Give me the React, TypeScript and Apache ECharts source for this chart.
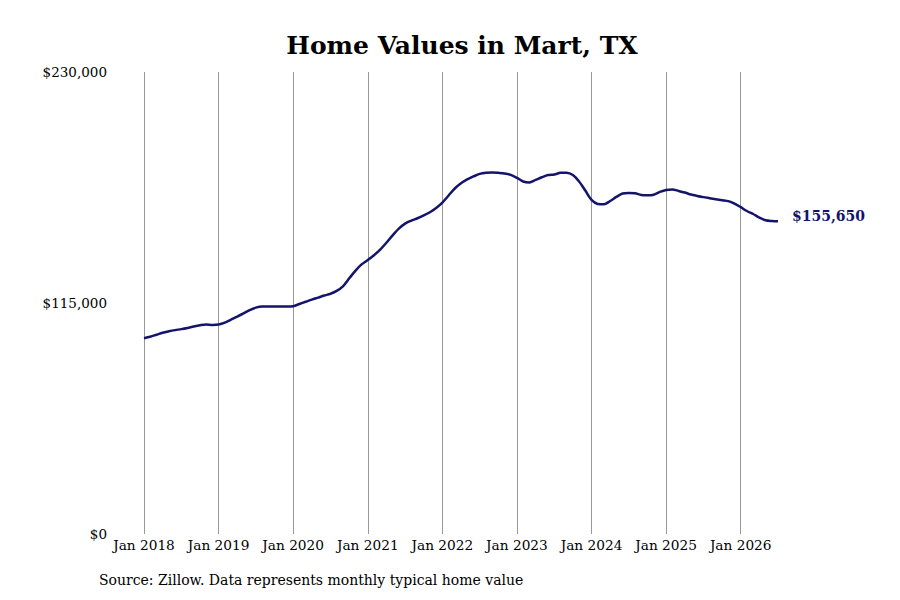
import React, { useEffect, useRef } from 'react';
import * as echarts from 'echarts';

// Monthly typical home values, Jan 2018 .. Jul 2026
const values2018 = [97500, 98200, 99200, 100200, 100900, 101500, 102000, 102600, 103300, 103900, 104300, 104100];
const values2019 = [104300, 105200, 106700, 108200, 109800, 111500, 112700, 113200, 113200, 113200, 113200, 113200];
const values2020 = [113400, 114500, 115600, 116700, 117700, 118700, 119600, 121000, 123300, 127200, 131000, 134200];
const values2021 = [136400, 138800, 141600, 145000, 148700, 152000, 154500, 156000, 157200, 158600, 160200, 162300];
const values2022 = [165000, 168500, 172000, 174600, 176500, 178000, 179300, 179900, 180000, 179800, 179500, 178800];
const values2023 = [177300, 175500, 175000, 176300, 177600, 178700, 179000, 179800, 179900, 178700, 175500, 171000];
const values2024 = [166300, 164300, 164100, 165800, 167800, 169500, 169800, 169600, 168800, 168600, 168900, 170300];
const values2025 = [171300, 171500, 170800, 170000, 169000, 168300, 167700, 167200, 166700, 166200, 165700, 164500];
const values2026 = [162700, 160800, 159300, 157500, 156200, 155800, 155650];

const values = [
  ...values2018, ...values2019, ...values2020, ...values2021, ...values2022,
  ...values2023, ...values2024, ...values2025, ...values2026,
];

const monthNames = ['Jan', 'Feb', 'Mar', 'Apr', 'May', 'Jun', 'Jul', 'Aug', 'Sep', 'Oct', 'Nov', 'Dec'];
const firstYear = 2018;
const categories = values.map((_, i) => `${monthNames[i % 12]} ${firstYear + Math.floor(i / 12)}`);

const yTicks = [0, 115000, 230000];

const FONT = '"DejaVu Serif", serif';
const NAVY = '#14146b';

const fmtMoney = (v: number) => '$' + v.toLocaleString('en-US');

const App: React.FC = () => {
  const chartRef = useRef<HTMLDivElement | null>(null);

  useEffect(() => {
    if (!chartRef.current) return;
    document.body.style.margin = '0';
    const chart = echarts.init(chartRef.current, undefined, { renderer: 'svg' });

    chart.setOption({
      animation: false,
      backgroundColor: '#fff',
      title: {
        text: 'Home Values in Mart, TX',
        left: 457,
        top: 28,
        textAlign: 'center',
        textStyle: { fontFamily: FONT, fontSize: 25, fontWeight: 'bold', color: '#000' },
      },
      grid: { left: 144, right: 122, top: 72, bottom: 66 },
      xAxis: {
        type: 'category',
        data: categories,
        boundaryGap: false,
        axisLine: { show: false },
        axisTick: { show: false },
        axisLabel: {
          interval: (idx: number) => idx % 12 === 0,
          fontFamily: FONT,
          fontSize: 13.7,
          color: '#000',
          margin: 4,
        },
        splitLine: {
          show: true,
          interval: (idx: number) => idx % 12 === 0,
          lineStyle: { color: '#999', width: 1 },
        },
      },
      yAxis: {
        type: 'value',
        min: yTicks[0],
        max: yTicks[yTicks.length - 1],
        interval: yTicks[1] - yTicks[0],
        axisLine: { show: false },
        axisTick: { show: false },
        splitLine: { show: false },
        axisLabel: {
          formatter: (v: number) => fmtMoney(v),
          fontFamily: FONT,
          fontSize: 13.5,
          color: '#000',
          margin: 37,
        },
      },
      series: [
        {
          type: 'line',
          data: values,
          smooth: 0.3,
          showSymbol: false,
          lineStyle: { color: NAVY, width: 2.5 },
          endLabel: {
            show: true,
            formatter: (p: any) => fmtMoney(p.value),
            fontFamily: FONT,
            fontSize: 14,
            fontWeight: 'bold',
            color: NAVY,
            distance: 14,
            offset: [0, -5],
          },
        },
      ],
      graphic: [
        {
          type: 'text',
          left: 99,
          top: 573,
          style: {
            text: 'Source: Zillow. Data represents monthly typical home value',
            fontFamily: FONT,
            fontSize: 14,
            fill: '#000',
          },
        },
      ],
    });

    return () => {
      chart.dispose();
    };
  }, []);

  return <div ref={chartRef} style={{ width: 900, height: 600 }} />;
};

export default App;
